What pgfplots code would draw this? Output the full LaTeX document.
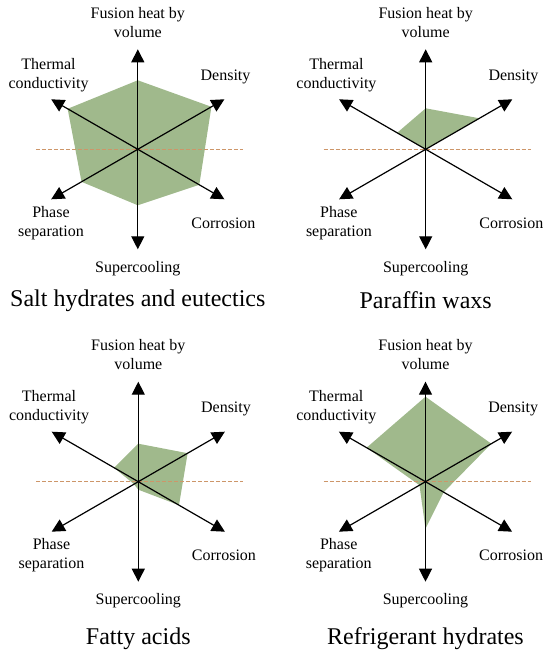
\documentclass[border=0pt]{standalone}
\usepackage{fontspec}
\setmainfont{Liberation Serif}
\usepackage{pgfplots}
\pgfplotsset{compat=1.18}
\usepgfplotslibrary{polar}
\usetikzlibrary{arrows.meta}

\definecolor{sage}{RGB}{160,185,140}
\definecolor{dashbrown}{RGB}{205,150,105}

\pgfplotsset{
  radar/.style={
    hide axis, scale only axis, width=200pt, height=200pt,
    xmin=0, xmax=360, ymin=0, ymax=1, clip=false, anchor=center,
  },
}
\tikzset{
  spoke/.style={black, line width=1.2pt, -{Triangle[length=13pt,width=13pt]}},
  lbl/.style={font=\fontsize{16}{19}\selectfont, align=center},
  ttl/.style={font=\fontsize{24}{28}\selectfont},
}

% the six spokes, the dashed level line and the axis names
\newcommand{\radarframe}[2]{%
  \addplot[dashbrown, line width=0.8pt, dash pattern=on 4pt off 2pt] coordinates {(180,1.02) (0,1.05)};
  \addplot[spoke] coordinates {(0,0) (90,1)};
  \addplot[spoke] coordinates {(0,0) (30,1)};
  \addplot[spoke] coordinates {(0,0) (330,1)};
  \addplot[spoke] coordinates {(0,0) (270,1)};
  \addplot[spoke] coordinates {(0,0) (210,1)};
  \addplot[spoke] coordinates {(0,0) (150,1)};
  \node[lbl] at (axis cs:90,1.27) {Fusion heat by\\volume};
  \node[lbl] at (axis cs:140.3,1.16) {Thermal\\conductivity};
  \node[lbl] at (axis cs:39.7,1.14) {Density};
  \node[lbl] at (axis cs:220.4,1.14) {Phase\\separation};
  \node[lbl] at (axis cs:319.3,1.13) {Corrosion};
  \node[lbl] at (axis cs:270,1.19) {Supercooling};
  \node[ttl] at (axis cs:270,#2) {#1};
}

\begin{document}
\begin{tikzpicture}
\useasboundingbox (0,0) rectangle (550pt,658pt);

% Salt hydrates and eutectics
\begin{polaraxis}[radar, at={(137.8pt,508.7pt)}]
  \addplot[fill=sage, draw=none] coordinates {
    (90,0.69) (30,0.85) (330,0.71) (270,0.56) (210,0.65) (150,0.81) (90,0.69)};
  \radarframe{Salt hydrates and eutectics}{1.51}
\end{polaraxis}

% Paraffin waxs
\begin{polaraxis}[radar, at={(425.7pt,508.7pt)}]
  \addplot[fill=sage, draw=none] coordinates {
    (90,0.41) (30,0.62) (330,0) (270,0) (210,0) (150,0.33) (90,0.41)};
  \radarframe{Paraffin waxs}{1.51}
\end{polaraxis}

% Fatty acids
\begin{polaraxis}[radar, at={(138.3pt,176.3pt)}]
  \addplot[fill=sage, draw=none] coordinates {
    (90,0.38) (30,0.57) (330,0.47) (270,0.08) (210,0.05) (150,0.28) (90,0.38)};
  \radarframe{Fatty acids}{1.57}
\end{polaraxis}

% Refrigerant hydrates
\begin{polaraxis}[radar, at={(425.5pt,176.3pt)}]
  \addplot[fill=sage, draw=none] coordinates {
    (90,0.85) (30,0.76) (330,0.21) (270,0.47) (210,0.07) (150,0.68) (90,0.85)};
  \radarframe{Refrigerant hydrates}{1.57}
\end{polaraxis}

\end{tikzpicture}
\end{document}
